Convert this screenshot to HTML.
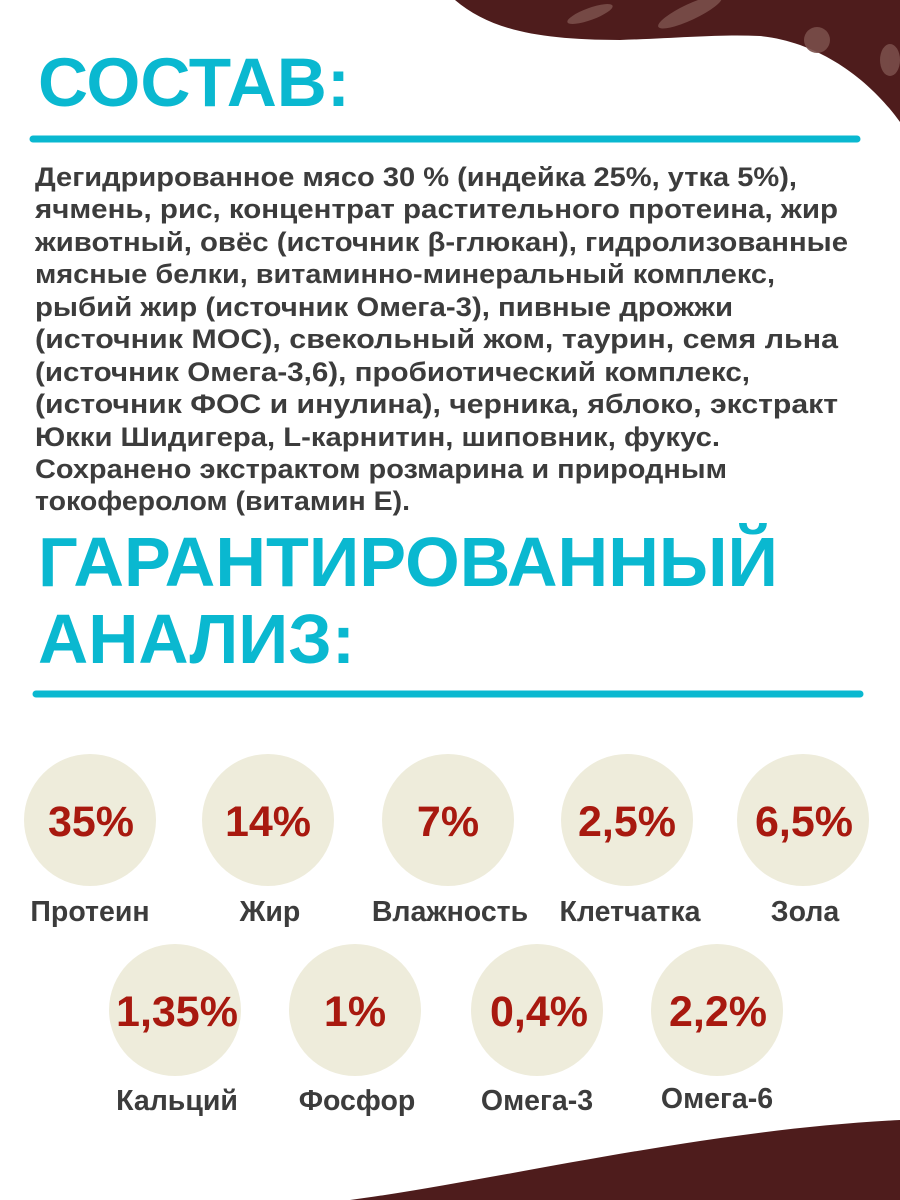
<!DOCTYPE html>
<html><head><meta charset="utf-8"><style>
html,body{margin:0;padding:0;background:#fff;}
svg{display:block;}
</style></head><body>
<svg width="900" height="1200" viewBox="0 0 900 1200" xmlns="http://www.w3.org/2000/svg">
<path d="M455,0 C490,30 540,40 620,40 C680,38 720,34 760,36 C820,42 870,80 900,122 L900,0 Z" fill="#4e1c1c"/>
<g fill="#7a4e4a" opacity="0.9">
<ellipse cx="590" cy="14" rx="24" ry="6" transform="rotate(-20 590 14)"/>
<ellipse cx="690" cy="12" rx="35" ry="8" transform="rotate(-25 690 12)"/>
<circle cx="817" cy="40" r="13"/>
<ellipse cx="890" cy="60" rx="10" ry="16"/>
</g>
<path d="M350,1200 C500,1180 700,1130 900,1120 L900,1200 Z" fill="#4e1c1c"/>
<g font-family="'Liberation Sans','DejaVu Sans',sans-serif" font-weight="bold">
<text x="38" y="106" font-size="69" fill="#0ab8d0" textLength="312" lengthAdjust="spacingAndGlyphs">СОСТАВ:</text>
<line x1="33" y1="139" x2="857" y2="139" stroke="#0ab8d0" stroke-width="7" stroke-linecap="round"/>
<g font-size="27" fill="#3c3c3c">
<text x="35" y="186" textLength="762" lengthAdjust="spacingAndGlyphs">Дегидрированное мясо 30 % (индейка 25%, утка 5%),</text>
<text x="35" y="218" textLength="803" lengthAdjust="spacingAndGlyphs">ячмень, рис, концентрат растительного протеина, жир</text>
<text x="35" y="251" textLength="813" lengthAdjust="spacingAndGlyphs">животный, овёс (источник β-глюкан), гидролизованные</text>
<text x="35" y="283" textLength="740" lengthAdjust="spacingAndGlyphs">мясные белки, витаминно-минеральный комплекс,</text>
<text x="35" y="316" textLength="698" lengthAdjust="spacingAndGlyphs">рыбий жир (источник Омега-3), пивные дрожжи</text>
<text x="35" y="348" textLength="803" lengthAdjust="spacingAndGlyphs">(источник МОС), свекольный жом, таурин, семя льна</text>
<text x="35" y="381" textLength="715" lengthAdjust="spacingAndGlyphs">(источник Омега-3,6), пробиотический комплекс,</text>
<text x="35" y="413" textLength="803" lengthAdjust="spacingAndGlyphs">(источник ФОС и инулина), черника, яблоко, экстракт</text>
<text x="35" y="446" textLength="685" lengthAdjust="spacingAndGlyphs">Юкки Шидигера, L-карнитин, шиповник, фукус.</text>
<text x="35" y="478" textLength="692" lengthAdjust="spacingAndGlyphs">Сохранено экстрактом розмарина и природным</text>
<text x="35" y="510" textLength="375" lengthAdjust="spacingAndGlyphs">токоферолом (витамин Е).</text>
</g>
<text x="38" y="586" font-size="70" fill="#0ab8d0" textLength="740" lengthAdjust="spacingAndGlyphs">ГАРАНТИРОВАННЫЙ</text>
<text x="38" y="663" font-size="70" fill="#0ab8d0" textLength="317" lengthAdjust="spacingAndGlyphs">АНАЛИЗ:</text>
<line x1="36" y1="694" x2="860" y2="694" stroke="#0ab8d0" stroke-width="7" stroke-linecap="round"/>
<g fill="#eeecdb">
<circle cx="90" cy="820" r="66"/><circle cx="268" cy="820" r="66"/><circle cx="448" cy="820" r="66"/><circle cx="627" cy="820" r="66"/><circle cx="803" cy="820" r="66"/>
<circle cx="175" cy="1010" r="66"/><circle cx="355" cy="1010" r="66"/><circle cx="537" cy="1010" r="66"/><circle cx="717" cy="1010" r="66"/>
</g>
<g font-size="43" fill="#a8190f" text-anchor="middle">
<text x="91" y="836">35%</text><text x="268" y="836">14%</text><text x="448" y="836">7%</text><text x="627" y="836">2,5%</text><text x="804" y="836">6,5%</text>
<text x="177" y="1026">1,35%</text><text x="355" y="1026">1%</text><text x="539" y="1026">0,4%</text><text x="718" y="1026">2,2%</text>
</g>
<g font-size="28.5" fill="#3c3c3c" text-anchor="middle">
<text x="90" y="921">Протеин</text><text x="270" y="921">Жир</text><text x="450" y="921">Влажность</text><text x="630" y="921">Клетчатка</text><text x="805" y="921">Зола</text>
<text x="177" y="1110">Кальций</text><text x="357" y="1110">Фосфор</text><text x="537" y="1110">Омега-3</text><text x="717" y="1108">Омега-6</text>
</g>
</g>
</svg>
</body></html>
